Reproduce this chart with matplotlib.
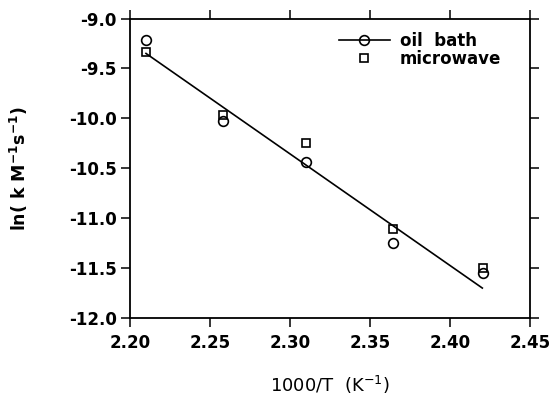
import matplotlib
matplotlib.use("Agg")
import matplotlib.pyplot as plt
from matplotlib.lines import Line2D

# Data
x_vals = [2.210, 2.258, 2.310, 2.3646, 2.4205]
oil_bath = [-9.215, -10.03, -10.44, -11.25, -11.55]
microwave = [-9.34, -9.965, -10.25, -11.105, -11.50]
fit_x = [2.210, 2.4202]
fit_y = [-9.35, -11.70]

x_ticks = [2.20, 2.25, 2.30, 2.35, 2.40, 2.45]
y_ticks = [-9.0, -9.5, -10.0, -10.5, -11.0, -11.5, -12.0]

plt.rcParams['font.family'] = ['DejaVu Sans']
plt.rcParams['font.weight'] = 'bold'
plt.rcParams['axes.labelweight'] = 'bold'
plt.rcParams['mathtext.fontset'] = 'dejavusans'
plt.rcParams['mathtext.default'] = 'bf'

fig = plt.figure(figsize=(5.55, 4.03), dpi=100)
ax = fig.add_axes([130/555, 1-318/403, 400/555, 299.5/403])

ax.plot(fit_x, fit_y, color='black', lw=1.2)
ax.plot(x_vals, oil_bath, linestyle='none', marker='o', ms=7, mfc='none', mec='black', mew=1.2)
ax.plot(x_vals, microwave, linestyle='none', marker='s', ms=6.2, mfc='none', mec='black', mew=1.2)

h1 = Line2D([], [], color='black', lw=1.2, marker='o', ms=7, mfc='none', mec='black', mew=1.2)
h2 = Line2D([], [], color='black', lw=0, marker='s', ms=6.2, mfc='none', mec='black', mew=1.2)
leg = ax.legend([h1, h2], ['oil  bath', 'microwave'], loc='upper left',
                bbox_to_anchor=(0.5225, 0.955), frameon=False, fontsize=12,
                handlelength=3.05, handletextpad=0.6, labelspacing=0.0,
                borderaxespad=0, borderpad=0)

ax.set_xlim(2.20, 2.45)
ax.set_ylim(-12.0, -9.0)
ax.set_xticks(x_ticks)
ax.set_yticks(y_ticks)
ax.set_xticklabels([f"{v:.2f}" for v in x_ticks])
ax.set_yticklabels([f"{v:.1f}" for v in y_ticks])

for s in ax.spines.values():
    s.set_linewidth(1.3)
ax.tick_params(direction='out', length=6.5, width=1.1, top=True, right=True,
               labelsize=12, labeltop=False, labelright=False)
ax.tick_params(axis='x', pad=5)
ax.tick_params(axis='y', pad=3)

ax.set_xlabel(r'1000/T  (K$^{\mathregular{-1}}$)', fontsize=13, fontweight='normal')
ax.set_ylabel(r'ln( k M$^{-1}$s$^{-1}$)', fontsize=12.5, fontweight='bold')
ax.xaxis.set_label_coords(0.5, -0.185)
ax.yaxis.set_label_coords(-0.25, 0.5)

fig.savefig('out.png', dpi=100)
